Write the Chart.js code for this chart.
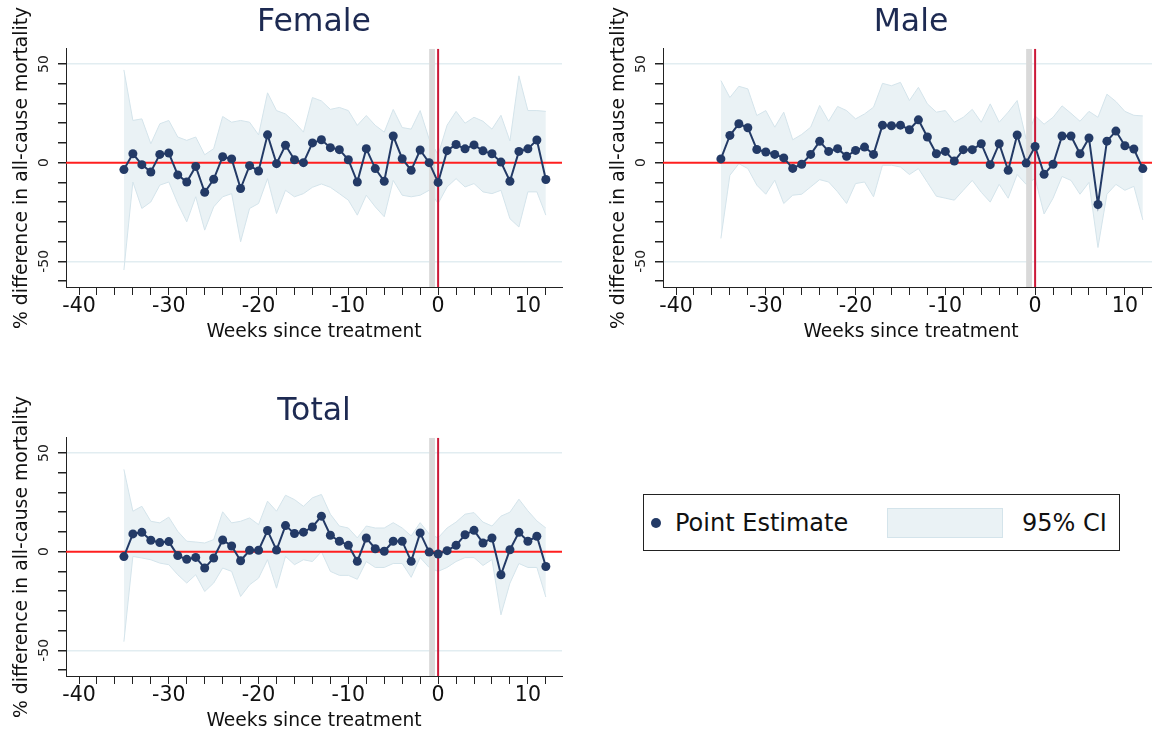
<!DOCTYPE html>
<html>
<head>
<meta charset="utf-8">
<title>Event study: all-cause mortality</title>
<script src="https://cdn.jsdelivr.net/npm/chart.js@4"></script>
<style>
  html, body { margin: 0; padding: 0; background: #fff; width: 1152px; height: 731px; overflow: hidden; position: relative; }
  canvas { position: absolute; }
  #legend { position: absolute; left: 643px; top: 494px; width: 475px; height: 55px; border: 1.5px solid #222;
            font-family: "DejaVu Sans", sans-serif; font-size: 24px; color: #111; }
  #legend .dot { position: absolute; left: 7px; top: 23px; width: 10px; height: 10px; border-radius: 50%; background: #233a66; }
  #legend .lab { position: absolute; top: 12px; line-height: 32px; }
  #legend .swatch { position: absolute; left: 243px; top: 13px; width: 114px; height: 28px; background: #eaf2f5; border: 1px solid #d4e4eb; }
</style>
</head>
<body>
<canvas id="female" width="570" height="345" style="left:0;top:0"></canvas>
<canvas id="male" width="570" height="345" style="left:597px;top:0"></canvas>
<canvas id="total" width="570" height="345" style="left:0;top:389px"></canvas>
<div id="legend">
  <div class="dot"></div><div class="lab" style="left:31px">Point Estimate</div>
  <div class="swatch"></div><div class="lab" style="left:378px">95% CI</div>
</div>
<script>
// weeks relative to treatment
const weeks = [-35, -34, -33, -32, -31, -30, -29, -28, -27, -26, -25, -24, -23, -22, -21, -20,
  -19, -18, -17, -16, -15, -14, -13, -12, -11, -10, -9, -8, -7, -6, -5, -4, -3, -2, -1,
  0, 1, 2, 3, 4, 5, 6, 7, 8, 9, 10, 11, 12];

const femaleEst = [-3.5, 4.5, -1, -4.7, 4.2, 4.9, -6.2, -9.8, -1.9, -15, -8.4, 3, 1.9, -13.1, -1.5, -4.2,
  14.1, -0.5, 8.8, 1.5, 0, 10, 11.6, 7.6, 6.6, 1.5, -9.8, 7.1, -3, -9.4, 13.5, 2, -3.9, 6.4, 0,
  -10, 6.1, 9.2, 7, 9, 6, 4.5, 0.3, -9.4, 5.7, 7, 11.5, -8.5];
const femaleLo = [-54.4, -9.8, -23.2, -19.9, -11.4, -9.8, -20.7, -30, -17.3, -34.2, -22.4, -17.3, -15.7, -40.1, -23.2, -20.7,
  -8.1, -25.8, -14, -17.3, -15.7, -12.5, -10.8, -12.5, -15.7, -19, -26.6, -16.5, -22.4, -27.4, -9, -16.5, -17.3, -16.5, -14,
  -20.7, -12.3, -8.1, -12.3, -10.6, -14.8, -15.7, -14, -28.4, -32.6, -14.8, -14.8, -26.6];
const femaleHi = [47, 21.4, 22.2, 9.6, 19.7, 21.4, 13, 11.3, 13, 4, 7.1, 23.4, 20.5, 21.4, 20.5, 14.1,
  35.4, 26.4, 24.7, 20.5, 15.5, 33, 31.3, 27, 28, 26.4, 18.9, 23.9, 18.9, 15.5, 27, 17.8, 17, 26.4, 12,
  4, 19, 26, 20, 23, 21, 17, 24, 11, 44, 26.4, 26.4, 26];

const maleEst = [1.9, 13.8, 19.7, 17.7, 6.7, 5.4, 4.2, 2.4, -2.9, -0.8, 4.2, 10.8, 5.7, 7.1, 3.2, 6.2,
  7.9, 4.2, 19, 18.7, 19, 16.7, 21.7, 13, 4.5, 5.7, 0.8, 6.6, 6.6, 9.6, -1, 9.6, -3.9, 14, -0.2,
  8.2, -5.9, -0.8, 13.5, 13.5, 4.5, 12.5, -21.2, 10.9, 16, 8.6, 6.9, -3];
const maleLo = [-38.4, -6.4, -0.5, -3, -11.4, -16, -8.9, -20.7, -16.5, -16, -12.3, -8.6, -9.8, -14.8, -20.7, -10.6,
  -9.8, -17.3, -1.3, -1.3, -2.2, -6, -3, -10, -17, -18, -19, -14, -9, -15, -20, -11, -18, -6, -11,
  -8, -26, -18, -7, -9, -16, -10, -43, -16, -11, -14, -12, -29];
const maleHi = [41.6, 33, 38.7, 37.4, 23.9, 26.4, 18, 25.6, 11.6, 14.3, 18, 29, 21, 28.5, 26.4, 22.2,
  24.7, 28.1, 40.2, 39, 40.7, 31.5, 38.2, 29.8, 25.6, 26.4, 20.5, 23, 27, 20.5, 29.8, 20.5, 25.6, 31.5, 12,
  23.7, 19.5, 23, 28.8, 25, 21, 26, 23, 34.7, 31, 26, 24, 23.7];

const totalEst = [-2.5, 9, 9.8, 5.8, 4.6, 5.1, -2, -3.9, -2.9, -8.3, -3.2, 5.9, 2.9, -4.6, 0.7, 0.7,
  10.7, 0.8, 13.2, 9.2, 9.9, 12.5, 18, 8.3, 5.3, 3.2, -4.9, 6.9, 1.5, 0.2, 5.3, 5.3, -4.9, 9.5, -0.2,
  -1.2, 0.5, 3.2, 8.6, 10.8, 4.4, 6.9, -11.7, 1, 9.8, 5.3, 7.8, -7.5];
const totalLo = [-45.6, -2.4, -3.2, -4.1, -5.8, -6.6, -11.7, -15.9, -11.7, -20.2, -15.9, -8.3, -10, -22.7, -16.8, -13.4,
  -4.1, -18.5, -2.4, -6.6, -4.1, -5, 0, -10, -12, -12, -14, -5, -8, -8, -6, -6, -13, -3, -8,
  -10, -8, -5, -3, -3, -7, -4, -32, -16, -6, -8, -8, -23];
const totalHi = [41.7, 20.5, 23, 15.4, 14.6, 17.5, 10.3, 5.3, 4.9, 4.4, 6.1, 20.2, 14.6, 15.4, 17.1, 13.7,
  25.6, 20.5, 28.6, 26.4, 23, 27.3, 29, 19, 13, 12, 7, 13, 12, 12, 14.7, 12, 8, 14.7, 9,
  7, 12, 15, 19, 19.8, 15, 13, 18, 20, 26.6, 20.7, 15.6, 12];

const yTickLabels = [-50, 0, 50];
const shadeWeeks = [-1, -0.35];   // grey band just before treatment

const NAVY = '#233a66';
Chart.defaults.font.family = '"DejaVu Sans", sans-serif';
Chart.defaults.color = '#111';

function toPts(vals) {
  return weeks.map((w, i) => ({ x: w, y: vals[i] }));
}

// reference lines, shaded week and the rotated y labels
const overlays = {
  id: 'overlays',
  beforeDatasetDraw(chart, args) {
    if (args.index !== 2) return;
    const { ctx, chartArea: a, scales: { x, y } } = chart;
    ctx.save();
    ctx.beginPath();
    ctx.rect(a.left, a.top, a.width, a.height);
    ctx.clip();
    const s0 = x.getPixelForValue(shadeWeeks[0]);
    const s1 = x.getPixelForValue(shadeWeeks[1]);
    ctx.fillStyle = '#d9d9d9';
    ctx.fillRect(s0, a.top, s1 - s0, a.height);
    ctx.lineWidth = 2;
    ctx.strokeStyle = '#ff1f1f';
    const y0 = y.getPixelForValue(0);
    ctx.beginPath(); ctx.moveTo(a.left, y0); ctx.lineTo(a.right, y0); ctx.stroke();
    ctx.strokeStyle = '#cc1838';
    const x0 = x.getPixelForValue(0);
    ctx.beginPath(); ctx.moveTo(x0, a.top); ctx.lineTo(x0, a.bottom); ctx.stroke();
    ctx.restore();
  },
  afterDraw(chart) {
    const { ctx, chartArea: a, scales: { y } } = chart;
    ctx.save();
    ctx.font = '14px "DejaVu Sans", sans-serif';
    ctx.fillStyle = '#222';
    ctx.textAlign = 'center';
    ctx.textBaseline = 'middle';
    yTickLabels.forEach(v => {
      ctx.save();
      ctx.translate(a.left - 22, y.getPixelForValue(v));
      ctx.rotate(-Math.PI / 2);
      ctx.fillText(String(v), 0, 0);
      ctx.restore();
    });
    ctx.restore();
  }
};

function makeChart(id, title, est, lo, hi) {
  new Chart(document.getElementById(id), {
    type: 'line',
    data: {
      datasets: [
        { label: 'lo', data: toPts(lo), borderColor: '#d4e4eb', borderWidth: 1, pointRadius: 0, fill: false, order: 2 },
        { label: 'hi', data: toPts(hi), borderColor: '#d4e4eb', borderWidth: 1, pointRadius: 0,
          fill: '-1', backgroundColor: '#eaf2f5', order: 2 },
        { label: 'Point Estimate', data: toPts(est), borderColor: NAVY, borderWidth: 2, pointRadius: 4.5,
          pointBackgroundColor: NAVY, pointBorderWidth: 0, fill: false, order: 1 }
      ]
    },
    options: {
      responsive: false,
      animation: false,
      layout: { padding: { left: 0, right: 8, top: 0, bottom: 0 } },
      plugins: {
        legend: { display: false },
        tooltip: { enabled: false },
        title: { display: true, text: title, fullSize: false, color: '#1d2a52',
                 font: { size: 31.5, weight: 'normal' }, padding: { top: 4, bottom: 7 } }
      },
      scales: {
        x: {
          type: 'linear', min: -41.45, max: 13.8,
          border: { color: '#222', width: 1 },
          grid: { drawOnChartArea: false, tickLength: 8, tickColor: '#222' },
          ticks: { stepSize: 2, autoSkip: false, includeBounds: false, maxRotation: 0, padding: -1,
                   font: { size: 20.5 }, color: '#111',
                   callback: v => (v % 10 === 0 ? v : '') },
          title: { display: true, text: 'Weeks since treatment', font: { size: 18.7 }, padding: { top: 0, bottom: 2 } },
          afterFit: s => { s.height = 58; }
        },
        y: {
          min: -63, max: 57.7,
          border: { color: '#222', width: 1 },
          grid: { tickLength: 8, tickColor: '#222', lineWidth: 1.5,
                  color: c => (Math.abs(c.tick.value) === 50 ? '#e2edf1' : 'rgba(0,0,0,0)') },
          ticks: { stepSize: 10, includeBounds: false, display: false },
          title: { display: true, text: '% difference in all-cause mortality', font: { size: 18.8 }, padding: { top: 11 } },
          afterFit: s => { s.width = 66; }
        }
      }
    },
    plugins: [overlays]
  });
}

makeChart('female', 'Female', femaleEst, femaleLo, femaleHi);
makeChart('male', 'Male', maleEst, maleLo, maleHi);
makeChart('total', 'Total', totalEst, totalLo, totalHi);
</script>
</body>
</html>
